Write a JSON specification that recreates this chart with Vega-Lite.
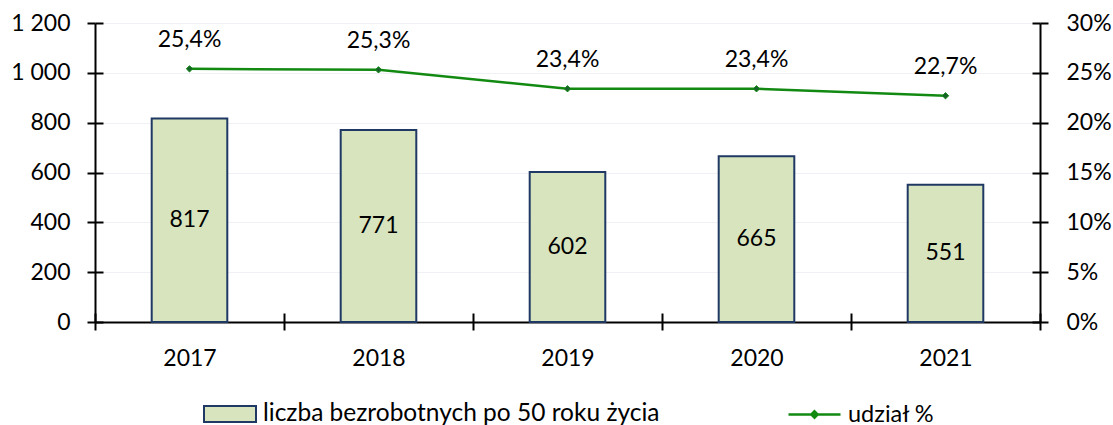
{
  "$schema": "https://vega.github.io/schema/vega-lite/v6.json",
  "width": 945,
  "height": 299,
  "autosize": "none",
  "padding": {"left": 95, "top": 23, "right": 73, "bottom": 103},
  "background": "#ffffff",
  "data": {
    "values": [
      {"rok": "2017", "liczba": 817, "udzial": 0.254},
      {"rok": "2018", "liczba": 771, "udzial": 0.253},
      {"rok": "2019", "liczba": 602, "udzial": 0.234},
      {"rok": "2020", "liczba": 665, "udzial": 0.234},
      {"rok": "2021", "liczba": 551, "udzial": 0.227}
    ]
  },
  "layer": [
    {
      "mark": {"type": "bar", "stroke": "#1f3864", "strokeWidth": 2, "width": {"band": 0.4}},
      "encoding": {
        "x": {"field": "rok", "type": "ordinal", "scale": {"paddingInner": 0, "paddingOuter": 0},
          "axis": {"orient": "bottom", "title": null, "labelAngle": 0, "tickBand": "extent", "tickSize": 8, "labelPadding": 17, "grid": false}},
        "y": {"field": "liczba", "type": "quantitative", "scale": {"domain": [0, 1200], "nice": false},
          "axis": {"orient": "left", "title": null, "values": [0, 200, 400, 600, 800, 1000, 1200], "format": ",.0f", "tickSize": 8, "labelPadding": 17, "grid": true, "gridColor": "#dfe3ee", "gridDash": [1, 1], "gridWidth": 1}},
        "fill": {"datum": "liczba bezrobotnych po 50 roku życia", "type": "nominal", "scale": {"range": ["#d7e4bd"]},
          "legend": {"orient": "none", "legendX": 108, "legendY": 364, "title": null, "padding": 0,
            "symbolType": "M-1,-0.31H1V0.31H-1Z", "symbolSize": 2704, "symbolStrokeColor": "#1f3864", "symbolStrokeWidth": 2, "symbolOpacity": 1,
            "labelFontSize": 24.5, "labelFont": "Lato", "labelColor": "#000000", "labelOffset": 6, "labelLimit": 600}}
      }
    },
    {
      "mark": {"type": "text", "fontSize": 23, "baseline": "middle", "color": "#000000"},
      "encoding": {
        "x": {"field": "rok", "type": "ordinal", "axis": null},
        "y": {"field": "liczba", "type": "quantitative", "scale": {"domain": [0, 2400], "nice": false}, "axis": null},
        "text": {"field": "liczba", "type": "quantitative", "format": "d"}
      }
    },
    {
      "mark": {"type": "line", "strokeWidth": 2.5},
      "encoding": {
        "x": {"field": "rok", "type": "ordinal", "axis": null},
        "y": {"field": "udzial", "type": "quantitative", "scale": {"domain": [0, 0.3], "nice": false},
          "axis": {"orient": "right", "title": null, "values": [0, 0.05, 0.1, 0.15, 0.2, 0.25, 0.3], "format": ".0%", "tickSize": 8, "labelPadding": 18, "grid": false}},
        "stroke": {"datum": "udział %", "type": "nominal", "scale": {"range": ["#128a12"]},
          "legend": {"orient": "none", "legendX": 692, "legendY": 364, "title": null, "padding": 0,
            "symbolType": "M-1,0H1M-0.12,0L0,-0.12L0.12,0L0,0.12Z", "symbolSize": 2704, "symbolStrokeWidth": 2.5, "symbolFillColor": "#128a12",
            "labelFontSize": 23.5, "labelFont": "Lato", "labelColor": "#000000", "labelOffset": 6}}
      }
    },
    {
      "mark": {"type": "point", "shape": "diamond", "size": 40, "filled": true, "color": "#17612a", "stroke": "#128a12", "strokeWidth": 1, "opacity": 1},
      "encoding": {
        "x": {"field": "rok", "type": "ordinal", "axis": null},
        "y": {"field": "udzial", "type": "quantitative", "scale": {"domain": [0, 0.3], "nice": false}, "axis": null}
      }
    },
    {
      "mark": {"type": "text", "fontSize": 23, "baseline": "middle", "dy": -29, "color": "#000000"},
      "encoding": {
        "x": {"field": "rok", "type": "ordinal", "axis": null},
        "y": {"field": "udzial", "type": "quantitative", "scale": {"domain": [0, 0.3], "nice": false}, "axis": null},
        "text": {"field": "udzial", "type": "quantitative", "format": ".1%"}
      }
    },
    {
      "mark": {"type": "bar", "opacity": 0, "width": {"band": 0.4}},
      "encoding": {
        "x": {"field": "rok", "type": "ordinal",
          "axis": {"orient": "bottom", "title": null, "tickBand": "extent", "tickSize": -9, "labels": false, "domain": false, "grid": false}},
        "y": {"field": "liczba", "type": "quantitative", "scale": {"domain": [0, 1200], "nice": false},
          "axis": {"orient": "left", "title": null, "values": [0, 200, 400, 600, 800, 1000, 1200], "tickSize": -8, "labels": false, "domain": false, "grid": false}}
      }
    },
    {
      "mark": {"type": "point", "opacity": 0},
      "encoding": {
        "x": {"field": "rok", "type": "ordinal", "axis": null},
        "y": {"field": "udzial", "type": "quantitative", "scale": {"domain": [0, 0.3], "nice": false},
          "axis": {"orient": "right", "title": null, "values": [0, 0.05, 0.1, 0.15, 0.2, 0.25, 0.3], "tickSize": -8, "labels": false, "domain": false, "grid": false}}
      }
    }
  ],
  "resolve": {"scale": {"y": "independent"}, "axis": {"y": "independent", "x": "independent"}},
  "config": {
    "font": "Lato",
    "view": {"stroke": null},
    "axis": {"labelFont": "Lato", "labelFontSize": 23, "labelColor": "#000000", "tickColor": "#000000", "domainColor": "#000000", "tickWidth": 2, "domainWidth": 2, "grid": false},
    "locale": {"number": {"decimal": ",", "thousands": " ", "grouping": [3], "currency": ["", " zł"], "percent": "%"}}
  }
}
